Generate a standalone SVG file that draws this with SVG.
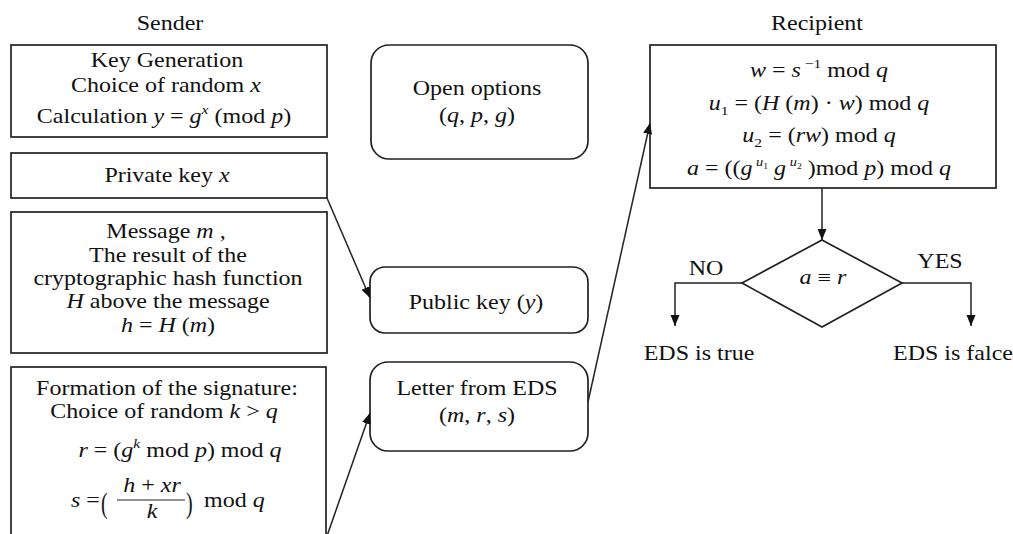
<svg xmlns="http://www.w3.org/2000/svg" width="1013" height="534" viewBox="0 0 1013 534">
<style>
.t { font-family: "Liberation Serif", "Times New Roman", serif; font-size: 20px; fill: #111111; text-anchor: middle; }
.s { text-anchor: start; }
.i { font-style: italic; }
.box { fill: #ffffff; stroke: #222222; stroke-width: 1.7; }
.conn { stroke: #222222; stroke-width: 1.5; fill: none; }
.arr { marker-end: url(#arrow); }
</style>
<defs>
<marker id="arrow" markerUnits="userSpaceOnUse" markerWidth="12" markerHeight="10" refX="11" refY="5" orient="auto">
<path d="M0,0.5 L11,5 L0,9.5 z" fill="#111111"/>
</marker>
</defs>
<rect width="1013" height="534" fill="#ffffff"/>

<g id="label-sender"><text class="t" transform="matrix(1.2 0 0 1 170 30)">Sender</text></g>
<g id="label-recipient"><text class="t" transform="matrix(1.2 0 0 1 817 30)">Recipient</text></g>

<g id="key-generation">
<rect class="box" x="11" y="45" width="316" height="92"/>
<text class="t" transform="matrix(1.2 0 0 1 167 67)">Key Generation</text>
<text class="t" transform="matrix(1.2 0 0 1 166 92)">Choice of random <tspan class="i">x</tspan></text>
<text class="t" transform="matrix(1.2 0 0 1 164 123)">Calculation  <tspan class="i">y</tspan> = <tspan class="i">g</tspan><tspan class="i" font-size="13" dy="-9">x</tspan><tspan dy="9"> (mod </tspan><tspan class="i">p</tspan>)</text>
</g>

<g id="private-key">
<rect class="box" x="11" y="153" width="316" height="45"/>
<text class="t" transform="matrix(1.2 0 0 1 167 182)">Private key  <tspan class="i">x</tspan></text>
</g>

<g id="message">
<rect class="box" x="11" y="212" width="316" height="141"/>
<text class="t" transform="matrix(1.2 0 0 1 166 238)">Message  <tspan class="i">m</tspan> ,</text>
<text class="t" transform="matrix(1.2 0 0 1 168 262)">The result of the</text>
<text class="t" transform="matrix(1.2 0 0 1 168 285)">cryptographic hash function</text>
<text class="t" transform="matrix(1.2 0 0 1 168 308)"><tspan class="i">H</tspan>  above the message</text>
<text class="t" transform="matrix(1.2 0 0 1 168 332)"><tspan class="i">h</tspan> = <tspan class="i">H</tspan> (<tspan class="i">m</tspan>)</text>
</g>

<g id="signature">
<rect class="box" x="11" y="367" width="315" height="180"/>
<text class="t" transform="matrix(1.2 0 0 1 167 395)">Formation of the signature:</text>
<text class="t" transform="matrix(1.2 0 0 1 164 418)">Choice of random  <tspan class="i">k</tspan> &gt; <tspan class="i">q</tspan></text>
<text class="t" transform="matrix(1.2 0 0 1 180 457)"><tspan class="i">r</tspan> = (<tspan class="i">g</tspan><tspan class="i" font-size="13" dy="-9">k</tspan><tspan dy="9">  mod  </tspan><tspan class="i">p</tspan>) mod <tspan class="i">q</tspan></text>
<text class="t s" transform="matrix(1.2 0 0 1 71 507)"><tspan class="i">s</tspan> =</text>
<text class="t s" transform="matrix(1 0 0 1.45 101 513)" font-size="36" font-weight="300">(</text>
<text class="t" transform="matrix(1.2 0 0 1 152 492)"><tspan class="i">h</tspan> + <tspan class="i">xr</tspan></text>
<line x1="117" y1="500" x2="185" y2="500" stroke="#222222" stroke-width="1.2"/>
<text class="t i" transform="matrix(1.2 0 0 1 152 518)">k</text>
<text class="t s" transform="matrix(1 0 0 1.45 186 513)" font-size="36" font-weight="300">)</text>
<text class="t s" transform="matrix(1.2 0 0 1 204 507)">mod <tspan class="i">q</tspan></text>
</g>

<g id="open-options">
<rect class="box" x="371" y="45" width="217" height="114" rx="18"/>
<text class="t" transform="matrix(1.2 0 0 1 477 95)">Open options</text>
<text class="t" transform="matrix(1.2 0 0 1 477 122)">(<tspan class="i">q</tspan>, <tspan class="i">p</tspan>, <tspan class="i">g</tspan>)</text>
</g>

<g id="public-key">
<rect class="box" x="370" y="267" width="218" height="66" rx="15"/>
<text class="t" transform="matrix(1.2 0 0 1 476 309)">Public key (<tspan class="i">y</tspan>)</text>
</g>

<g id="letter-eds">
<rect class="box" x="370" y="362" width="218" height="89" rx="18"/>
<text class="t" transform="matrix(1.2 0 0 1 477 395)">Letter from EDS</text>
<text class="t" transform="matrix(1.2 0 0 1 477 422)">(<tspan class="i">m</tspan>, <tspan class="i">r</tspan>, <tspan class="i">s</tspan>)</text>
</g>

<g id="verification">
<rect class="box" x="650" y="45" width="346" height="143"/>
<text class="t" transform="matrix(1.2 0 0 1 819 77)"><tspan class="i">w</tspan> = <tspan class="i">s</tspan><tspan font-size="13" dy="-9"> −1</tspan><tspan dy="9"> mod </tspan><tspan class="i">q</tspan></text>
<text class="t" transform="matrix(1.2 0 0 1 819 110)"><tspan class="i">u</tspan><tspan font-size="13" dy="5">1</tspan><tspan dy="-5"> = (</tspan><tspan class="i">H</tspan> (<tspan class="i">m</tspan>) · <tspan class="i">w</tspan>) mod <tspan class="i">q</tspan></text>
<text class="t" transform="matrix(1.2 0 0 1 819 142)"><tspan class="i">u</tspan><tspan font-size="13" dy="5">2</tspan><tspan dy="-5"> = (</tspan><tspan class="i">rw</tspan>) mod <tspan class="i">q</tspan></text>
<text class="t" transform="matrix(1.2 0 0 1 819 175)"><tspan class="i">a</tspan> = ((<tspan class="i">g</tspan><tspan class="i" font-size="12" dy="-9"> u</tspan><tspan font-size="8" dy="3">1</tspan><tspan dy="6"> </tspan><tspan class="i">g</tspan><tspan class="i" font-size="12" dy="-9"> u</tspan><tspan font-size="8" dy="3">2</tspan><tspan dy="6"> )mod </tspan><tspan class="i">p</tspan>) mod <tspan class="i">q</tspan></text>
</g>

<g id="decision">
<polygon class="box" points="822,240 902,283 822,327 742,283"/>
<text class="t i" transform="matrix(1.2 0 0 1 823 284)">a <tspan font-style="normal">≡</tspan> r</text>
</g>

<g id="label-no"><text class="t" transform="matrix(1.2 0 0 1 706 275)">NO</text></g>
<g id="label-yes"><text class="t" transform="matrix(1.2 0 0 1 940 268)">YES</text></g>
<g id="result-true"><text class="t" transform="matrix(1.2 0 0 1 699 360)">EDS is true</text></g>
<g id="result-false"><text class="t" transform="matrix(1.2 0 0 1 953 360)">EDS is falce</text></g>

<g id="connectors">
<line class="conn arr" x1="327" y1="198" x2="370" y2="298"/>
<line class="conn arr" x1="327" y1="536" x2="370" y2="413"/>
<line class="conn arr" x1="588" y1="402" x2="650" y2="123"/>
<line class="conn arr" x1="822" y1="188" x2="822" y2="240"/>
<polyline class="conn arr" points="742,283 675,283 675,326"/>
<polyline class="conn arr" points="902,283 971,283 971,326"/>
</g>
</svg>
